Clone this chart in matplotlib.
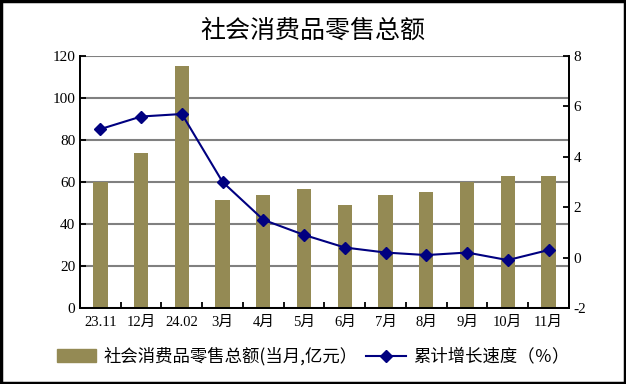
# 社会消费品零售总额: bars (当月, 亿元) + cumulative growth line (%)
import numpy as np
import matplotlib.pyplot as plt
from matplotlib.patches import Rectangle
from matplotlib.lines import Line2D

plt.rcParams['font.family'] = ['Liberation Serif', 'Noto Sans CJK SC']
plt.rcParams['axes.unicode_minus'] = False

# data
months = ['23.11', '12月', '24.02', '3月', '4月', '5月', '6月', '7月', '8月', '9月', '10月', '11月']
retail = [60.0, 73.8, 115.2, 51.4, 53.8, 56.7, 49.0, 53.8, 55.2, 60.1, 62.9, 62.9]
growth = [5.1, 5.6, 5.7, 3.0, 1.5, 0.9, 0.4, 0.2, 0.1, 0.2, -0.1, 0.3]

bar_color = '#948A54'
line_color = '#000080'

fig = plt.figure(figsize=(6.26, 3.84), dpi=100)
ax = fig.add_axes([0.1278, 0.198, 0.781, 0.656])
x = np.arange(len(months))

# gridlines behind the bars
ax.set_axisbelow(True)
ax.yaxis.grid(True, color='#808080', linewidth=1.5)
ax.bar(x, retail, width=0.35, color=bar_color, zorder=2)

ax.set_xlim(-0.5, len(months) - 0.5)
ax.set_ylim(0, 120)
ax.set_yticks(range(0, 121, 20))
ax.set_xticks(x)
ax.set_xticklabels(months)
ax.set_xticks(np.arange(-0.5, len(months), 1), minor=True)
ax.tick_params(axis='x', which='major', length=0, labelsize=10.5, pad=6)
ax.tick_params(axis='x', which='minor', direction='in', length=4, width=1.3)
ax.tick_params(axis='y', direction='in', length=4, width=1.3, labelsize=11)
ax.spines['top'].set_visible(False)
for s in ['left', 'bottom', 'right']:
    ax.spines[s].set_linewidth(1.3)

ax2 = ax.twinx()
ax2.plot(x, growth, color=line_color, linewidth=1.5, marker='D', markersize=6.5)
ax2.set_ylim(-2, 8)
ax2.set_yticks(range(-2, 9, 2))
ax2.tick_params(axis='y', direction='in', length=4, width=1.3, labelsize=11)
ax2.spines['top'].set_visible(False)
for s in ['left', 'bottom', 'right']:
    ax2.spines[s].set_linewidth(1.3)

fig.text(0.5, 0.92, '社会消费品零售总额', ha='center', va='center', fontsize=18,
         family=['Noto Sans CJK SC'])

handles = [Rectangle((0, 0), 1, 1, color=bar_color),
           Line2D([], [], color=line_color, linewidth=1.5, marker='D', markersize=6.5)]
labels = ['社会消费品零售总额(当月,亿元）', '累计增长速度（％）']
fig.legend(handles, labels, loc='center', bbox_to_anchor=(0.5, 0.072), ncol=2,
           frameon=False, prop={'family': ['Noto Sans CJK SC'], 'size': 12.5},
           handlelength=2.3, columnspacing=0.5, handletextpad=0.4)

# black border around the picture
fig.patches.append(Rectangle((0.002, 0.003), 0.996, 0.994, transform=fig.transFigure,
                             fill=False, edgecolor='black', linewidth=2.5))

fig.savefig('out.png', dpi=100)
